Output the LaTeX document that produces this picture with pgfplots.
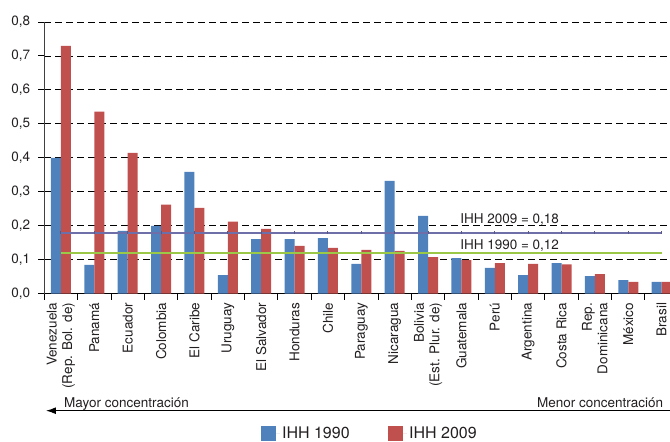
\documentclass[border=0pt]{standalone}
\usepackage{fontspec}
\setmainfont{TeX Gyre Heros}
\usepackage{pgfplots}
\pgfplotsset{compat=1.18}
\usepackage{pgfplotstable}
\usetikzlibrary{arrows.meta}
\definecolor{bblue}{HTML}{4F81BD}
\definecolor{bred}{HTML}{C0504D}
\definecolor{lpurple}{HTML}{6E6EA8}
\definecolor{lgreen}{HTML}{9BC846}
\definecolor{txt}{HTML}{231F20}
\pgfplotstableread{
x v1990 v2009
0  0.400 0.730
1  0.085 0.536
2  0.185 0.415
3  0.200 0.262
4  0.359 0.253
5  0.055 0.212
6  0.161 0.191
7  0.161 0.141
8  0.164 0.135
9  0.088 0.129
10 0.332 0.126
11 0.229 0.108
12 0.105 0.099
13 0.076 0.090
14 0.055 0.088
15 0.090 0.086
16 0.052 0.058
17 0.040 0.035
18 0.035 0.035
}\datatable
\newcommand{\fs}{\fontsize{13.5}{15.5}\selectfont}
\begin{document}
\begin{tikzpicture}
\begin{axis}[
  at={(0pt,0pt)}, anchor=south west,
  scale only axis,
  width=625.7pt, height=271.7pt,
  xmin=-0.5, xmax=18.25, ymin=0, ymax=0.8,
  axis x line*=bottom, axis y line*=left,
  x axis line style={-, black, line width=1.1pt},
  y axis line style={-, black!75, line width=1.1pt},
  ybar=0pt, bar width=0.3,
  tick align=outside,
  major tick length=6pt, minor tick length=6pt,
  xtick={0,...,18},
  minor xtick={-0.5,0.5,...,17.5},
  major x tick style={draw=none},
  minor x tick style={black, line width=1pt},
  y tick style={black, line width=1pt},
  xticklabels={{Venezuela\\(Rep. Bol. de)},Panamá,Ecuador,Colombia,El Caribe,Uruguay,El Salvador,Honduras,Chile,Paraguay,Nicaragua,{Bolivia\\(Est. Plur. de)},Guatemala,Perú,Argentina,Costa Rica,{Rep.\\Dominicana},México,Brasil},
  xticklabel style={rotate=90, anchor=east, align=right, font=\fs, text=txt, inner sep=0pt, xshift=-3pt},
  ytick={0,0.1,...,0.8},
  yticklabel style={font=\fs, text=txt, inner sep=0pt, xshift=-8pt},
  /pgf/number format/.cd, use comma, fixed, fixed zerofill, precision=1, assume math mode=true,
  /pgfplots/.cd,
  ymajorgrids,
  major grid style={black, line width=0.9pt, dash pattern=on 7pt off 4pt},
  clip=true,
  legend columns=2,
  legend style={at={(0.52,-0.516)}, anchor=center, draw=none, fill=none,
    font=\fontsize{16}{19}\selectfont, text=txt,
    /tikz/every even column/.append style={column sep=36pt}},
  legend image code/.code={\draw[#1, draw=none] (0pt,-7.5pt) rectangle (15.5pt,7.5pt); \path (0pt,0pt) -- (19.5pt,0pt);},
]
\addplot[fill=bblue, draw=none] table[x=x, y=v1990] {\datatable};
\addlegendentry{IHH 1990}
\addplot[fill=bred, draw=none] table[x=x, y=v2009] {\datatable};
\addlegendentry{IHH 2009}
\addplot[sharp plot, forget plot, lgreen, line width=2.4pt, mark=none] coordinates {(0,0.12) (18,0.12)};
\addplot[sharp plot, forget plot, lpurple, line width=2pt, mark=|, mark size=1.5pt, mark options={draw=lpurple!80!black, line width=1pt}] coordinates {(0,0.18) (1,0.18) (2,0.18) (3,0.18) (4,0.18) (5,0.18) (6,0.18) (7,0.18) (8,0.18) (9,0.18) (10,0.18) (11,0.18) (12,0.18) (13,0.18) (14,0.18) (15,0.18) (16,0.18) (17,0.18) (18,0.18)};
\node[anchor=base west, font=\fs, text=txt, inner sep=0pt] at (axis cs:11.96,0.206) {IHH 2009 = 0,18};
\node[anchor=base west, font=\fs, text=txt, inner sep=0pt] at (axis cs:11.96,0.129) {IHH 1990 = 0,12};
\end{axis}
\draw[-{Latex[length=10pt,width=7pt]}, line width=1.1pt, black] (625.7pt,-117pt) -- (1.7pt,-117pt);
\node[anchor=base west, font=\fs, text=txt, inner sep=0pt] at (19.7pt,-113.3pt) {Mayor concentración};
\node[anchor=base east, font=\fs, text=txt, inner sep=0pt] at (619pt,-113.3pt) {Menor concentración};
\pgfresetboundingbox
\useasboundingbox (-44.3pt,-148.3pt) rectangle (625.7pt,293.7pt);
\end{tikzpicture}
\end{document}
